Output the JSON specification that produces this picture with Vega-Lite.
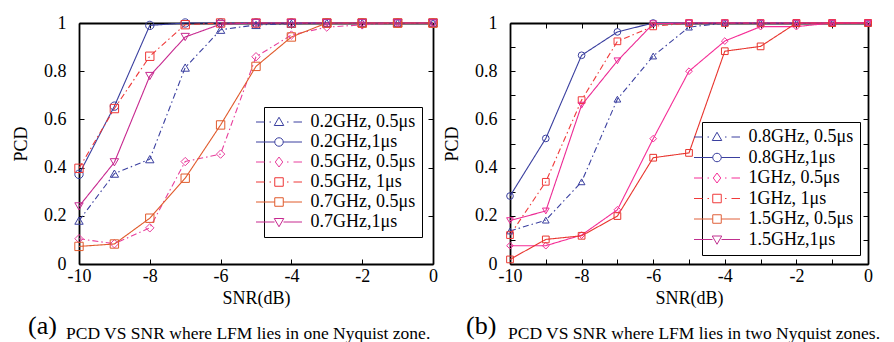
{
  "$schema": "https://vega.github.io/schema/vega-lite/v6.json",
  "padding": {"left": 12, "top": 14, "right": 0, "bottom": 0},
  "background": "white",
  "config": {
    "view": {"stroke": null},
    "font": "Liberation Serif",
    "concat": {"spacing": 3},
    "axis": {
      "grid": false,
      "domainColor": "black",
      "domainWidth": 1.8,
      "tickColor": "black",
      "tickWidth": 1,
      "tickSize": -5,
      "labelFont": "Liberation Serif",
      "labelFontSize": 18,
      "labelColor": "black",
      "labelFlush": false,
      "labelOverlap": false,
      "titleFont": "Liberation Serif",
      "titleFontSize": 18,
      "titleFontWeight": "normal",
      "titleColor": "black"
    },
    "legend": {
      "labelFont": "Liberation Serif",
      "labelFontSize": 18,
      "labelColor": "black",
      "symbolSize": 100,
      "symbolStrokeWidth": 1
    }
  },
  "datasets": {
    "a": [
      {"snr": -10, "pcd": 0.18, "s": "0.2GHz, 0.5μs"},
      {"snr": -9, "pcd": 0.375, "s": "0.2GHz, 0.5μs"},
      {"snr": -8, "pcd": 0.435, "s": "0.2GHz, 0.5μs"},
      {"snr": -7, "pcd": 0.815, "s": "0.2GHz, 0.5μs"},
      {"snr": -6, "pcd": 0.972, "s": "0.2GHz, 0.5μs"},
      {"snr": -5, "pcd": 0.992, "s": "0.2GHz, 0.5μs"},
      {"snr": -4, "pcd": 0.997, "s": "0.2GHz, 0.5μs"},
      {"snr": -3, "pcd": 1, "s": "0.2GHz, 0.5μs"},
      {"snr": -2, "pcd": 1, "s": "0.2GHz, 0.5μs"},
      {"snr": -1, "pcd": 1, "s": "0.2GHz, 0.5μs"},
      {"snr": 0, "pcd": 1, "s": "0.2GHz, 0.5μs"},
      {"snr": -10, "pcd": 0.372, "s": "0.2GHz,1μs"},
      {"snr": -9, "pcd": 0.655, "s": "0.2GHz,1μs"},
      {"snr": -8, "pcd": 0.99, "s": "0.2GHz,1μs"},
      {"snr": -7, "pcd": 1, "s": "0.2GHz,1μs"},
      {"snr": -6, "pcd": 1, "s": "0.2GHz,1μs"},
      {"snr": -5, "pcd": 1, "s": "0.2GHz,1μs"},
      {"snr": -4, "pcd": 1, "s": "0.2GHz,1μs"},
      {"snr": -3, "pcd": 1, "s": "0.2GHz,1μs"},
      {"snr": -2, "pcd": 1, "s": "0.2GHz,1μs"},
      {"snr": -1, "pcd": 1, "s": "0.2GHz,1μs"},
      {"snr": 0, "pcd": 1, "s": "0.2GHz,1μs"},
      {"snr": -10, "pcd": 0.105, "s": "0.5GHz, 0.5μs"},
      {"snr": -9, "pcd": 0.084, "s": "0.5GHz, 0.5μs"},
      {"snr": -8, "pcd": 0.15, "s": "0.5GHz, 0.5μs"},
      {"snr": -7, "pcd": 0.425, "s": "0.5GHz, 0.5μs"},
      {"snr": -6, "pcd": 0.456, "s": "0.5GHz, 0.5μs"},
      {"snr": -5, "pcd": 0.86, "s": "0.5GHz, 0.5μs"},
      {"snr": -4, "pcd": 0.95, "s": "0.5GHz, 0.5μs"},
      {"snr": -3, "pcd": 0.983, "s": "0.5GHz, 0.5μs"},
      {"snr": -2, "pcd": 0.992, "s": "0.5GHz, 0.5μs"},
      {"snr": -1, "pcd": 1, "s": "0.5GHz, 0.5μs"},
      {"snr": 0, "pcd": 1, "s": "0.5GHz, 0.5μs"},
      {"snr": -10, "pcd": 0.397, "s": "0.5GHz, 1μs"},
      {"snr": -9, "pcd": 0.645, "s": "0.5GHz, 1μs"},
      {"snr": -8, "pcd": 0.862, "s": "0.5GHz, 1μs"},
      {"snr": -7, "pcd": 0.993, "s": "0.5GHz, 1μs"},
      {"snr": -6, "pcd": 1, "s": "0.5GHz, 1μs"},
      {"snr": -5, "pcd": 1, "s": "0.5GHz, 1μs"},
      {"snr": -4, "pcd": 1, "s": "0.5GHz, 1μs"},
      {"snr": -3, "pcd": 1, "s": "0.5GHz, 1μs"},
      {"snr": -2, "pcd": 1, "s": "0.5GHz, 1μs"},
      {"snr": -1, "pcd": 1, "s": "0.5GHz, 1μs"},
      {"snr": 0, "pcd": 1, "s": "0.5GHz, 1μs"},
      {"snr": -10, "pcd": 0.073, "s": "0.7GHz, 0.5μs"},
      {"snr": -9, "pcd": 0.083, "s": "0.7GHz, 0.5μs"},
      {"snr": -8, "pcd": 0.19, "s": "0.7GHz, 0.5μs"},
      {"snr": -7, "pcd": 0.356, "s": "0.7GHz, 0.5μs"},
      {"snr": -6, "pcd": 0.577, "s": "0.7GHz, 0.5μs"},
      {"snr": -5, "pcd": 0.82, "s": "0.7GHz, 0.5μs"},
      {"snr": -4, "pcd": 0.942, "s": "0.7GHz, 0.5μs"},
      {"snr": -3, "pcd": 1, "s": "0.7GHz, 0.5μs"},
      {"snr": -2, "pcd": 1, "s": "0.7GHz, 0.5μs"},
      {"snr": -1, "pcd": 1, "s": "0.7GHz, 0.5μs"},
      {"snr": 0, "pcd": 1, "s": "0.7GHz, 0.5μs"},
      {"snr": -10, "pcd": 0.239, "s": "0.7GHz,1μs"},
      {"snr": -9, "pcd": 0.422, "s": "0.7GHz,1μs"},
      {"snr": -8, "pcd": 0.78, "s": "0.7GHz,1μs"},
      {"snr": -7, "pcd": 0.942, "s": "0.7GHz,1μs"},
      {"snr": -6, "pcd": 0.995, "s": "0.7GHz,1μs"},
      {"snr": -5, "pcd": 1, "s": "0.7GHz,1μs"},
      {"snr": -4, "pcd": 1, "s": "0.7GHz,1μs"},
      {"snr": -3, "pcd": 1, "s": "0.7GHz,1μs"},
      {"snr": -2, "pcd": 1, "s": "0.7GHz,1μs"},
      {"snr": -1, "pcd": 1, "s": "0.7GHz,1μs"},
      {"snr": 0, "pcd": 1, "s": "0.7GHz,1μs"}
    ],
    "b": [
      {"snr": -10, "pcd": 0.137, "s": "0.8GHz, 0.5μs"},
      {"snr": -9, "pcd": 0.182, "s": "0.8GHz, 0.5μs"},
      {"snr": -8, "pcd": 0.341, "s": "0.8GHz, 0.5μs"},
      {"snr": -7, "pcd": 0.684, "s": "0.8GHz, 0.5μs"},
      {"snr": -6, "pcd": 0.863, "s": "0.8GHz, 0.5μs"},
      {"snr": -5, "pcd": 0.983, "s": "0.8GHz, 0.5μs"},
      {"snr": -4, "pcd": 1, "s": "0.8GHz, 0.5μs"},
      {"snr": -3, "pcd": 1, "s": "0.8GHz, 0.5μs"},
      {"snr": -2, "pcd": 1, "s": "0.8GHz, 0.5μs"},
      {"snr": -1, "pcd": 1, "s": "0.8GHz, 0.5μs"},
      {"snr": 0, "pcd": 1, "s": "0.8GHz, 0.5μs"},
      {"snr": -10, "pcd": 0.282, "s": "0.8GHz,1μs"},
      {"snr": -9, "pcd": 0.521, "s": "0.8GHz,1μs"},
      {"snr": -8, "pcd": 0.866, "s": "0.8GHz,1μs"},
      {"snr": -7, "pcd": 0.963, "s": "0.8GHz,1μs"},
      {"snr": -6, "pcd": 1, "s": "0.8GHz,1μs"},
      {"snr": -5, "pcd": 1, "s": "0.8GHz,1μs"},
      {"snr": -4, "pcd": 1, "s": "0.8GHz,1μs"},
      {"snr": -3, "pcd": 1, "s": "0.8GHz,1μs"},
      {"snr": -2, "pcd": 1, "s": "0.8GHz,1μs"},
      {"snr": -1, "pcd": 1, "s": "0.8GHz,1μs"},
      {"snr": 0, "pcd": 1, "s": "0.8GHz,1μs"},
      {"snr": -10, "pcd": 0.076, "s": "1GHz, 0.5μs"},
      {"snr": -9, "pcd": 0.076, "s": "1GHz, 0.5μs"},
      {"snr": -8, "pcd": 0.12, "s": "1GHz, 0.5μs"},
      {"snr": -7, "pcd": 0.225, "s": "1GHz, 0.5μs"},
      {"snr": -6, "pcd": 0.52, "s": "1GHz, 0.5μs"},
      {"snr": -5, "pcd": 0.8, "s": "1GHz, 0.5μs"},
      {"snr": -4, "pcd": 0.925, "s": "1GHz, 0.5μs"},
      {"snr": -3, "pcd": 0.985, "s": "1GHz, 0.5μs"},
      {"snr": -2, "pcd": 0.985, "s": "1GHz, 0.5μs"},
      {"snr": -1, "pcd": 1, "s": "1GHz, 0.5μs"},
      {"snr": 0, "pcd": 1, "s": "1GHz, 0.5μs"},
      {"snr": -10, "pcd": 0.12, "s": "1GHz, 1μs"},
      {"snr": -9, "pcd": 0.341, "s": "1GHz, 1μs"},
      {"snr": -8, "pcd": 0.68, "s": "1GHz, 1μs"},
      {"snr": -7, "pcd": 0.924, "s": "1GHz, 1μs"},
      {"snr": -6, "pcd": 0.986, "s": "1GHz, 1μs"},
      {"snr": -5, "pcd": 1, "s": "1GHz, 1μs"},
      {"snr": -4, "pcd": 1, "s": "1GHz, 1μs"},
      {"snr": -3, "pcd": 1, "s": "1GHz, 1μs"},
      {"snr": -2, "pcd": 1, "s": "1GHz, 1μs"},
      {"snr": -1, "pcd": 1, "s": "1GHz, 1μs"},
      {"snr": 0, "pcd": 1, "s": "1GHz, 1μs"},
      {"snr": -10, "pcd": 0.019, "s": "1.5GHz, 0.5μs"},
      {"snr": -9, "pcd": 0.102, "s": "1.5GHz, 0.5μs"},
      {"snr": -8, "pcd": 0.117, "s": "1.5GHz, 0.5μs"},
      {"snr": -7, "pcd": 0.199, "s": "1.5GHz, 0.5μs"},
      {"snr": -6, "pcd": 0.441, "s": "1.5GHz, 0.5μs"},
      {"snr": -5, "pcd": 0.461, "s": "1.5GHz, 0.5μs"},
      {"snr": -4, "pcd": 0.883, "s": "1.5GHz, 0.5μs"},
      {"snr": -3, "pcd": 0.903, "s": "1.5GHz, 0.5μs"},
      {"snr": -2, "pcd": 1, "s": "1.5GHz, 0.5μs"},
      {"snr": -1, "pcd": 1, "s": "1.5GHz, 0.5μs"},
      {"snr": 0, "pcd": 1, "s": "1.5GHz, 0.5μs"},
      {"snr": -10, "pcd": 0.18, "s": "1.5GHz,1μs"},
      {"snr": -9, "pcd": 0.22, "s": "1.5GHz,1μs"},
      {"snr": -8, "pcd": 0.659, "s": "1.5GHz,1μs"},
      {"snr": -7, "pcd": 0.843, "s": "1.5GHz,1μs"},
      {"snr": -6, "pcd": 0.997, "s": "1.5GHz,1μs"},
      {"snr": -5, "pcd": 1, "s": "1.5GHz,1μs"},
      {"snr": -4, "pcd": 1, "s": "1.5GHz,1μs"},
      {"snr": -3, "pcd": 1, "s": "1.5GHz,1μs"},
      {"snr": -2, "pcd": 1, "s": "1.5GHz,1μs"},
      {"snr": -1, "pcd": 1, "s": "1.5GHz,1μs"},
      {"snr": 0, "pcd": 1, "s": "1.5GHz,1μs"}
    ]
  },
  "hconcat": [
    {
      "title": {
        "text": "PCD VS SNR where LFM lies in one Nyquist zone.",
        "orient": "bottom",
        "anchor": "start",
        "frame": "group",
        "dx": -13,
        "offset": -14,
        "font": "Liberation Serif",
        "fontSize": 17.5,
        "fontWeight": "normal",
        "color": "black"
      },
      "vconcat": [
        {
          "width": 354,
          "height": 241,
          "data": {"name": "a"},
          "title": {
            "text": "(a)",
            "orient": "bottom",
            "anchor": "start",
            "frame": "group",
            "dx": -51,
            "offset": 6,
            "font": "Liberation Serif",
            "fontSize": 26,
            "fontWeight": "normal",
            "color": "black"
          },
          "layer": [
            {
              "mark": {"type": "line", "strokeWidth": 1.1},
              "encoding": {
                "x": {"field": "snr", "type": "quantitative", "scale": {"domain": [-10, 0], "nice": false},
                  "axis": {"orient": "bottom", "values": [-10, -8, -6, -4, -2, 0], "labelExpr": "datum.value", "title": "SNR(dB)", "labelPadding": 8, "titlePadding": 4}},
                "y": {"field": "pcd", "type": "quantitative", "scale": {"domain": [0, 1], "nice": false},
                  "axis": {"orient": "left", "values": [0, 0.2, 0.4, 0.6, 0.8, 1], "labelExpr": "datum.value", "title": "PCD", "labelPadding": 18, "titlePadding": 13}},
                "color": {"field": "s", "type": "nominal", "legend": null,
                  "scale": {"domain": ["0.2GHz, 0.5μs", "0.2GHz,1μs", "0.5GHz, 0.5μs", "0.5GHz, 1μs", "0.7GHz, 0.5μs", "0.7GHz,1μs"],
                    "range": ["#3a3f9f", "#3a3f9f", "#e83e9c", "#ee3636", "#e05a2b", "#c7288f"]}},
                "strokeDash": {"field": "s", "type": "nominal", "legend": null,
                  "scale": {"domain": ["0.2GHz, 0.5μs", "0.2GHz,1μs", "0.5GHz, 0.5μs", "0.5GHz, 1μs", "0.7GHz, 0.5μs", "0.7GHz,1μs"],
                    "range": [[6, 3, 1.5, 3], [1, 0], [6, 3, 1.5, 3], [6, 3, 1.5, 3], [1, 0], [1, 0]]}}
              }
            },
            {
              "mark": {"type": "point", "filled": false, "size": 70, "strokeWidth": 1, "opacity": 1},
              "encoding": {
                "x": {"field": "snr", "type": "quantitative", "scale": {"domain": [-10, 0], "nice": false},
                  "axis": {"orient": "top", "values": [-10, -8, -6, -4, -2, 0], "labels": false, "title": null}},
                "y": {"field": "pcd", "type": "quantitative", "scale": {"domain": [0, 1], "nice": false},
                  "axis": {"orient": "right", "values": [0, 0.2, 0.4, 0.6, 0.8, 1], "labels": false, "title": null}},
                "color": {"field": "s", "type": "nominal", "legend": null,
                  "scale": {"domain": ["0.2GHz, 0.5μs", "0.2GHz,1μs", "0.5GHz, 0.5μs", "0.5GHz, 1μs", "0.7GHz, 0.5μs", "0.7GHz,1μs"],
                    "range": ["#3a3f9f", "#3a3f9f", "#e83e9c", "#ee3636", "#e05a2b", "#c7288f"]}},
                "shape": {"field": "s", "type": "nominal", "legend": null,
                  "scale": {"domain": ["0.2GHz, 0.5μs", "0.2GHz,1μs", "0.5GHz, 0.5μs", "0.5GHz, 1μs", "0.7GHz, 0.5μs", "0.7GHz,1μs"],
                    "range": ["triangle-up", "circle", "diamond", "square", "square", "triangle-down"]}}
              }
            },
            {
              "transform": [{"filter": "false"}],
              "mark": {"type": "point", "filled": false, "opacity": 1},
              "encoding": {
                "x": {"field": "snr", "type": "quantitative", "scale": {"domain": [-10, 0], "nice": false}, "axis": null},
                "y": {"field": "pcd", "type": "quantitative", "scale": {"domain": [0, 1], "nice": false}, "axis": null},
                "color": {"field": "s", "type": "nominal",
                  "scale": {"domain": ["0.2GHz, 0.5μs", "0.2GHz,1μs", "0.5GHz, 0.5μs", "0.5GHz, 1μs", "0.7GHz, 0.5μs", "0.7GHz,1μs"],
                    "range": ["#3a3f9f", "#3a3f9f", "#e83e9c", "#ee3636", "#e05a2b", "#c7288f"]},
                  "legend": {"orient": "none", "legendX": 185, "legendY": 84, "title": null, "strokeColor": "black", "fillColor": "white", "padding": 6, "labelOffset": 22.5, "rowPadding": 2,
                    "encode": {"legend": {"update": {"strokeWidth": {"value": 2}}}}}},
                "shape": {"field": "s", "type": "nominal",
                  "scale": {"domain": ["0.2GHz, 0.5μs", "0.2GHz,1μs", "0.5GHz, 0.5μs", "0.5GHz, 1μs", "0.7GHz, 0.5μs", "0.7GHz,1μs"],
                    "range": [
                      "M-4.6,0H-2.9M-1.9,0H-1.6M1.6,0H1.9M2.9,0H4.6M0,-0.95L0.95,0.7L-0.95,0.7Z",
                      "M-4.6,0H-0.85M0.85,0H4.6M-0.85,0A0.85,0.85 0 1,1 0.85,0A0.85,0.85 0 1,1 -0.85,0Z",
                      "M-4.6,0H-2.9M-1.9,0H-1.6M1.6,0H1.9M2.9,0H4.6M0,-1L0.75,0L0,1L-0.75,0Z",
                      "M-4.6,0H-2.9M-1.9,0H-1.6M1.6,0H1.9M2.9,0H4.6M-0.85,-0.85H0.85V0.85H-0.85Z",
                      "M-4.6,0H-0.85M0.85,0H4.6M-0.85,-0.85H0.85V0.85H-0.85Z",
                      "M-4.6,0H-0.9M0.9,0H4.6M0,0.95L0.95,-0.7L-0.95,-0.7Z"
                    ]},
                  "legend": {"orient": "none", "legendX": 185, "legendY": 84, "title": null, "strokeColor": "black", "fillColor": "white", "padding": 6, "labelOffset": 22.5, "rowPadding": 2,
                    "encode": {"legend": {"update": {"strokeWidth": {"value": 2}}}}}}
              }
            }
          ],
          "resolve": {
            "scale": {"color": "independent", "shape": "independent", "strokeDash": "independent"},
            "axis": {"x": "independent", "y": "independent"}
          }
        }
      ]
    },
    {
      "title": {
        "text": "PCD VS SNR where LFM lies in two Nyquist zones.",
        "orient": "bottom",
        "anchor": "start",
        "frame": "group",
        "dx": -2,
        "offset": -14,
        "font": "Liberation Serif",
        "fontSize": 17.5,
        "fontWeight": "normal",
        "color": "black"
      },
      "vconcat": [
        {
          "width": 358,
          "height": 241,
          "data": {"name": "b"},
          "title": {
            "text": "(b)",
            "orient": "bottom",
            "anchor": "start",
            "frame": "group",
            "dx": -44,
            "offset": 6,
            "font": "Liberation Serif",
            "fontSize": 26,
            "fontWeight": "normal",
            "color": "black"
          },
          "layer": [
            {
              "mark": {"type": "line", "strokeWidth": 1.1},
              "encoding": {
                "x": {"field": "snr", "type": "quantitative", "scale": {"domain": [-10, 0], "nice": false},
                  "axis": {"orient": "bottom", "values": [-10, -9, -8, -7, -6, -5, -4, -3, -2, -1, 0], "labelExpr": "datum.value % 2 == 0 ? datum.value : ''", "title": "SNR(dB)", "labelPadding": 8, "titlePadding": 4}},
                "y": {"field": "pcd", "type": "quantitative", "scale": {"domain": [0, 1], "nice": false},
                  "axis": {"orient": "left", "values": [0, 0.1, 0.2, 0.3, 0.4, 0.5, 0.6, 0.7, 0.8, 0.9, 1], "labelExpr": "round(datum.value * 10) % 2 == 0 ? datum.value : ''", "title": "PCD", "labelPadding": 18, "titlePadding": 13}},
                "color": {"field": "s", "type": "nominal", "legend": null,
                  "scale": {"domain": ["0.8GHz, 0.5μs", "0.8GHz,1μs", "1GHz, 0.5μs", "1GHz, 1μs", "1.5GHz, 0.5μs", "1.5GHz,1μs"],
                    "range": ["#3a3f9f", "#3a3f9f", "#f52d96", "#f03a3a", "#e8352e", "#ec2a94"]}},
                "strokeDash": {"field": "s", "type": "nominal", "legend": null,
                  "scale": {"domain": ["0.8GHz, 0.5μs", "0.8GHz,1μs", "1GHz, 0.5μs", "1GHz, 1μs", "1.5GHz, 0.5μs", "1.5GHz,1μs"],
                    "range": [[6, 3, 1.5, 3], [1, 0], [1, 0], [6, 3, 1.5, 3], [1, 0], [1, 0]]}}
              }
            },
            {
              "mark": {"type": "point", "filled": false, "size": 45, "strokeWidth": 1, "opacity": 1},
              "encoding": {
                "x": {"field": "snr", "type": "quantitative", "scale": {"domain": [-10, 0], "nice": false},
                  "axis": {"orient": "top", "values": [-10, -9, -8, -7, -6, -5, -4, -3, -2, -1, 0], "labels": false, "title": null}},
                "y": {"field": "pcd", "type": "quantitative", "scale": {"domain": [0, 1], "nice": false},
                  "axis": {"orient": "right", "values": [0, 0.1, 0.2, 0.3, 0.4, 0.5, 0.6, 0.7, 0.8, 0.9, 1], "labels": false, "title": null}},
                "color": {"field": "s", "type": "nominal", "legend": null,
                  "scale": {"domain": ["0.8GHz, 0.5μs", "0.8GHz,1μs", "1GHz, 0.5μs", "1GHz, 1μs", "1.5GHz, 0.5μs", "1.5GHz,1μs"],
                    "range": ["#3a3f9f", "#3a3f9f", "#f52d96", "#f03a3a", "#e8352e", "#ec2a94"]}},
                "shape": {"field": "s", "type": "nominal", "legend": null,
                  "scale": {"domain": ["0.8GHz, 0.5μs", "0.8GHz,1μs", "1GHz, 0.5μs", "1GHz, 1μs", "1.5GHz, 0.5μs", "1.5GHz,1μs"],
                    "range": ["triangle-up", "circle", "diamond", "square", "square", "triangle-down"]}}
              }
            },
            {
              "transform": [{"filter": "false"}],
              "mark": {"type": "point", "filled": false, "opacity": 1},
              "encoding": {
                "x": {"field": "snr", "type": "quantitative", "scale": {"domain": [-10, 0], "nice": false}, "axis": null},
                "y": {"field": "pcd", "type": "quantitative", "scale": {"domain": [0, 1], "nice": false}, "axis": null},
                "color": {"field": "s", "type": "nominal",
                  "scale": {"domain": ["0.8GHz, 0.5μs", "0.8GHz,1μs", "1GHz, 0.5μs", "1GHz, 1μs", "1.5GHz, 0.5μs", "1.5GHz,1μs"],
                    "range": ["#3a3f9f", "#3a3f9f", "#f52d96", "#f03a3a", "#e0603a", "#c0308f"]},
                  "legend": {"orient": "none", "legendX": 192, "legendY": 99, "title": null, "strokeColor": "black", "fillColor": "white", "padding": 6, "labelOffset": 22.5, "rowPadding": 2.5,
                    "encode": {"legend": {"update": {"strokeWidth": {"value": 2}}}}}},
                "shape": {"field": "s", "type": "nominal",
                  "scale": {"domain": ["0.8GHz, 0.5μs", "0.8GHz,1μs", "1GHz, 0.5μs", "1GHz, 1μs", "1.5GHz, 0.5μs", "1.5GHz,1μs"],
                    "range": [
                      "M-4.6,0H-2.9M-1.9,0H-1.6M1.6,0H1.9M2.9,0H4.6M0,-0.95L0.95,0.7L-0.95,0.7Z",
                      "M-4.6,0H-0.85M0.85,0H4.6M-0.85,0A0.85,0.85 0 1,1 0.85,0A0.85,0.85 0 1,1 -0.85,0Z",
                      "M-4.6,0H-2.9M-1.9,0H-1.6M1.6,0H1.9M2.9,0H4.6M0,-1L0.75,0L0,1L-0.75,0Z",
                      "M-4.6,0H-2.9M-1.9,0H-1.6M1.6,0H1.9M2.9,0H4.6M-0.85,-0.85H0.85V0.85H-0.85Z",
                      "M-4.6,0H-0.85M0.85,0H4.6M-0.85,-0.85H0.85V0.85H-0.85Z",
                      "M-4.6,0H-0.9M0.9,0H4.6M0,0.95L0.95,-0.7L-0.95,-0.7Z"
                    ]},
                  "legend": {"orient": "none", "legendX": 192, "legendY": 99, "title": null, "strokeColor": "black", "fillColor": "white", "padding": 6, "labelOffset": 22.5, "rowPadding": 2.5,
                    "encode": {"legend": {"update": {"strokeWidth": {"value": 2}}}}}}
              }
            }
          ],
          "resolve": {
            "scale": {"color": "independent", "shape": "independent", "strokeDash": "independent"},
            "axis": {"x": "independent", "y": "independent"}
          }
        }
      ]
    }
  ]
}
